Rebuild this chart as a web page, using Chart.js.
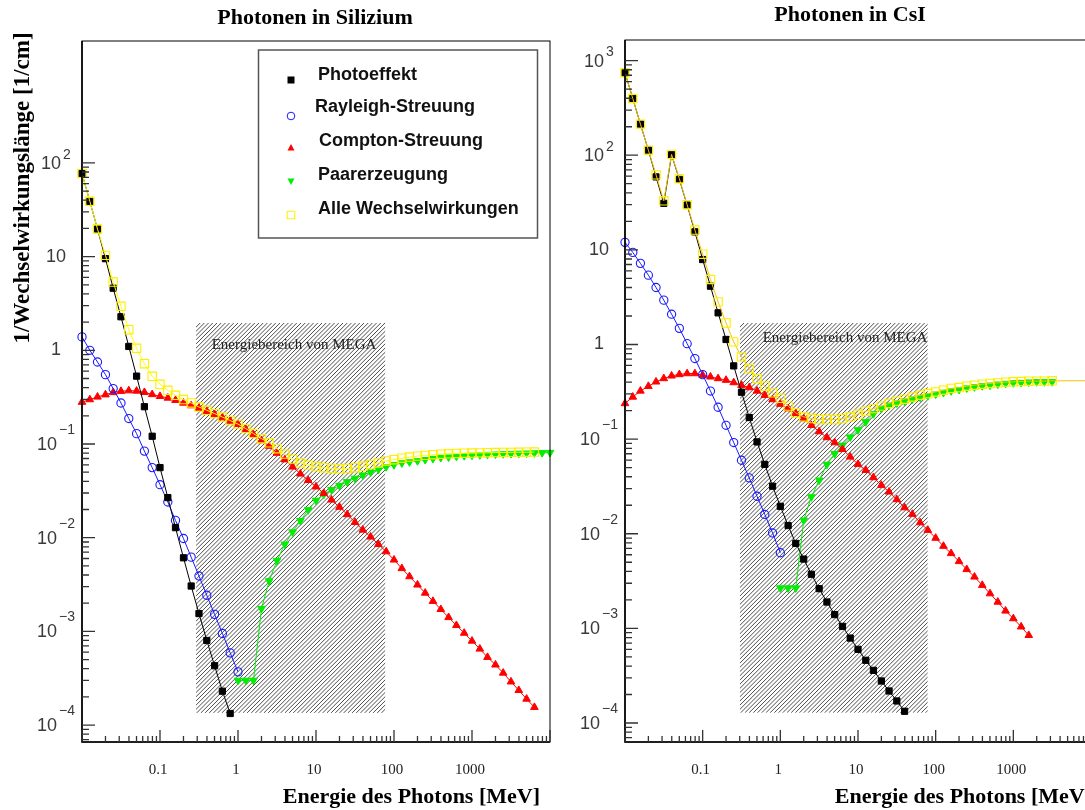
<!DOCTYPE html>
<html>
<head>
<meta charset="utf-8">
<script src="https://cdn.jsdelivr.net/npm/chart.js@4.4.0/dist/chart.umd.min.js"></script>
<style>
    html, body { margin: 0; padding: 0; background: #fff; width: 1085px; height: 810px; overflow: hidden; }
    canvas { position: absolute; top: 0; }
    #links { left: 0; }
    #rechts { left: 560px; }
</style>
</head>
<body>
<canvas id="links" width="560" height="810"></canvas>
<canvas id="rechts" width="545" height="810"></canvas>
<script>
// Energiegitter in MeV (10 Punkte pro Dekade)
const energie = [0.01, 0.0126, 0.0158, 0.02, 0.0251, 0.0316, 0.0398, 0.0501, 0.0631, 0.0794,
    0.1, 0.126, 0.158, 0.2, 0.251, 0.316, 0.398, 0.501, 0.631, 0.794,
    1, 1.26, 1.58, 2, 2.51, 3.16, 3.98, 5.01, 6.31, 7.94,
    10, 12.6, 15.8, 20, 25.1, 31.6, 39.8, 50.1, 63.1, 79.4,
    100, 126, 158, 200, 251, 316, 398, 501, 631, 794,
    1000, 1260, 1580, 2000, 2510, 3160, 3980, 5010, 6310, 7940, 10000];

// ---- Silizium (1/cm) ----
const photoSi = [76.9, 38.9, 19.7, 9.5, 4.6, 2.28, 1.1, 0.53, 0.25, 0.121,
    0.056, 0.0268, 0.0128, 0.0061, 0.00305, 0.00155, 0.0008, 0.00043, 0.00023, 0.000133];
const rayleighSi = [1.39, 1.0, 0.75, 0.55, 0.39, 0.274, 0.187, 0.129, 0.084, 0.056,
    0.0368, 0.024, 0.0153, 0.0098, 0.0062, 0.0039, 0.00243, 0.00152, 0.00095, 0.00059, 0.00037];
const comptonSi = [0.28, 0.298, 0.318, 0.336, 0.355, 0.366, 0.371, 0.368, 0.356, 0.338,
    0.323, 0.31, 0.293, 0.274, 0.257, 0.242, 0.224, 0.207, 0.191, 0.176,
    0.162, 0.143, 0.126, 0.109, 0.095, 0.08, 0.068, 0.057, 0.048, 0.041,
    0.035, 0.0298, 0.0253, 0.0212, 0.0177, 0.0146, 0.0121, 0.0102, 0.0085, 0.0071,
    0.0058, 0.0047, 0.00385, 0.00314, 0.00257, 0.0021, 0.00172, 0.00141, 0.00116, 0.00096,
    0.00079, 0.00065, 0.00053, 0.00044, 0.00036, 0.00029, 0.000235, 0.00019, 0.000155];
const paarSiStart = 20; // erster Punkt bei 1 MeV
const paarSi = [0.0003, 0.0003, 0.0003, 0.00175, 0.00345, 0.0057, 0.0085, 0.0115, 0.0152, 0.0198,
    0.025, 0.029, 0.0325, 0.036, 0.0395, 0.043, 0.0465, 0.05, 0.0535, 0.057,
    0.06, 0.0627, 0.0643, 0.066, 0.068, 0.0698, 0.0716, 0.0725, 0.0738, 0.0748,
    0.0757, 0.0765, 0.0772, 0.0778, 0.0784, 0.0789, 0.0794, 0.0798, 0.0802, 0.0806, 0.081];
const alleSi = [76.9, 38.9, 19.7, 10.3, 5.35, 2.95, 1.66, 1.05, 0.72, 0.528,
    0.434, 0.374, 0.331, 0.298, 0.274, 0.248, 0.229, 0.211, 0.194, 0.178,
    0.163, 0.146, 0.129, 0.114, 0.103, 0.089, 0.078, 0.069, 0.063, 0.0595,
    0.0575, 0.0558, 0.0548, 0.0543, 0.0547, 0.0559, 0.0578, 0.0603, 0.0627, 0.066,
    0.068, 0.0705, 0.0725, 0.0742, 0.0756, 0.0768, 0.0778, 0.0786, 0.0792, 0.0797,
    0.0801, 0.0804, 0.0807, 0.081, 0.0812, 0.0814, 0.0816, 0.0818, 0.082];

// ---- CsI (1/cm) ----
const photoCsI = [743, 398, 213, 113, 59, 31, 101, 55.5, 29.7, 15.5,
    7.9, 4.13, 2.16, 1.13, 0.594, 0.313, 0.169, 0.0934, 0.054, 0.0318,
    0.0195, 0.0122, 0.0079, 0.0054, 0.00373, 0.00263, 0.0019, 0.0014, 0.00105, 0.00079,
    0.0006, 0.00046, 0.00036, 0.000278, 0.000218, 0.000171, 0.000133];
const rayleighCsI = [12.0, 9.4, 7.2, 5.4, 4.0, 2.94, 2.09, 1.48, 1.02, 0.71,
    0.48, 0.322, 0.217, 0.14, 0.092, 0.0598, 0.0389, 0.0249, 0.016, 0.0102, 0.0063];
const comptonCsI = [0.238, 0.279, 0.323, 0.362, 0.403, 0.437, 0.466, 0.482, 0.493, 0.493,
    0.474, 0.455, 0.437, 0.42, 0.396, 0.371, 0.351, 0.323, 0.291, 0.262,
    0.234, 0.21, 0.187, 0.165, 0.14, 0.12, 0.104, 0.092, 0.078, 0.0649,
    0.0543, 0.0469, 0.0393, 0.0326, 0.0277, 0.023, 0.0189, 0.0161, 0.0131, 0.0109,
    0.009, 0.0074, 0.0062, 0.0051, 0.0042, 0.0035, 0.00286, 0.00233, 0.0019, 0.00153,
    0.00127, 0.00104, 0.000845];
const paarCsIStart = 20;
const paarCsI = [0.00267, 0.00267, 0.00267, 0.0139, 0.0245, 0.0368, 0.054, 0.07, 0.086, 0.105,
    0.125, 0.152, 0.185, 0.21, 0.228, 0.24, 0.252, 0.264, 0.276, 0.287,
    0.298, 0.311, 0.323, 0.334, 0.346, 0.356, 0.365, 0.371, 0.38, 0.387,
    0.393, 0.396, 0.4, 0.403, 0.403, 0.403];
const alleCsI = [743, 398, 213, 113, 62, 33, 102, 56.5, 30, 16.2,
    9.0, 4.86, 2.82, 1.69, 1.065, 0.74, 0.557, 0.437, 0.362, 0.308,
    0.27, 0.223, 0.189, 0.172, 0.165, 0.161, 0.161, 0.161, 0.165, 0.172,
    0.183, 0.197, 0.21, 0.223, 0.238, 0.252, 0.264, 0.279, 0.291, 0.303,
    0.315, 0.329, 0.343, 0.351, 0.362, 0.371, 0.38, 0.387, 0.393, 0.4,
    0.403, 0.406, 0.409, 0.41, 0.41, 0.413];
const alleCsIEnde = 0.414; // Linie laeuft ohne Marker bis zum Rand weiter

// Achsen
const xTickWerte = [0.1, 1, 10, 100, 1000];
const xTickTexte = ['0.1', '1', '10', '100', '1000'];
const yExpSi = [-4, -3, -2, -1, 0, 1, 2];
const yExpCsI = [-4, -3, -2, -1, 0, 1, 2, 3];

// MEGA Energiebereich (schraffiert)
const megaSi = { von: 0.29, bis: 77, unten: 1.35e-4, oben: 1.96 };
const megaCsI = { von: 0.302, bis: 78.7, unten: 1.28e-4, oben: 1.69 };

const legendeTexte = ['Photoeffekt', 'Rayleigh-Streuung', 'Compton-Streuung', 'Paarerzeugung', 'Alle Wechselwirkungen'];

const gruen = '#00ee00';
const blau = '#1a1aff';

let punkte = (werte, start) => werte.map((v, i) => ({ x: energie[start + i], y: v }));

let datensaetze = (photo, rayleigh, compton, paar, paarStart, alle, alleEnde, gelbLinie) => {
    let alleDaten = punkte(alle, 0);
    if (alleEnde != null) alleDaten.push({ x: energie[energie.length - 1], y: alleEnde });
    return [
        {   // Alle Wechselwirkungen (oben)
            label: legendeTexte[4], data: alleDaten, order: 0,
            borderColor: gelbLinie, pointBorderColor: '#ffee00', backgroundColor: 'rgba(0,0,0,0)',
            pointStyle: 'rect', pointRadius: alleDaten.map((p, i) => i < alle.length ? 5.9 : 0),
            pointBorderWidth: 1.1
        },
        {
            label: legendeTexte[0], data: punkte(photo, 0), order: 1,
            borderColor: '#000', backgroundColor: '#000',
            pointStyle: 'rect', pointRadius: 4.4, pointBorderWidth: 1
        },
        {
            label: legendeTexte[1], data: punkte(rayleigh, 0), order: 2,
            borderColor: blau, backgroundColor: 'rgba(0,0,0,0)',
            pointStyle: 'circle', pointRadius: 4.1, pointBorderWidth: 1.1
        },
        {
            label: legendeTexte[2], data: punkte(compton, 0), order: 3,
            borderColor: '#ff0000', backgroundColor: '#ff0000',
            pointStyle: 'triangle', pointRadius: 4.4, pointBorderWidth: 1
        },
        {
            label: legendeTexte[3], data: punkte(paar, paarStart), order: 4,
            borderColor: gruen, backgroundColor: gruen,
            pointStyle: 'triangle', pointRotation: 180, pointRadius: 4.4, pointBorderWidth: 1
        }
    ];
}

// kleine Marker fuer die Legende
let marker = (ctx, art, x, y) => {
    ctx.save();
    ctx.lineWidth = 1;
    ctx.beginPath();
    if (art == 0) { ctx.fillStyle = '#000'; ctx.fillRect(x - 3.5, y - 3.5, 7, 7); }
    if (art == 1) { ctx.strokeStyle = blau; ctx.arc(x, y, 3.8, 0, 2 * Math.PI); ctx.stroke(); }
    if (art == 2) { ctx.fillStyle = '#ff0000'; ctx.moveTo(x, y - 4); ctx.lineTo(x + 3.5, y + 2.5); ctx.lineTo(x - 3.5, y + 2.5); ctx.fill(); }
    if (art == 3) { ctx.fillStyle = gruen; ctx.moveTo(x, y + 4); ctx.lineTo(x + 3.5, y - 2.5); ctx.lineTo(x - 3.5, y - 2.5); ctx.fill(); }
    if (art == 4) { ctx.strokeStyle = '#ffee00'; ctx.strokeRect(x - 3.8, y - 3.8, 7.6, 7.6); }
    ctx.restore();
}

const deko = {
    id: 'deko',
    beforeDatasetsDraw(chart, args, o) {
        const { ctx } = chart;
        const xs = chart.scales.x, ys = chart.scales.y;
        const b = o.bereich;
        const x0 = xs.getPixelForValue(b.von), x1 = xs.getPixelForValue(b.bis);
        const y0 = ys.getPixelForValue(b.oben), y1 = ys.getPixelForValue(b.unten);
        const h = y1 - y0;
        ctx.save();
        ctx.beginPath();
        ctx.rect(x0, y0, x1 - x0, h);
        ctx.clip();
        ctx.strokeStyle = '#3a3a3a';
        ctx.lineWidth = 0.9;
        ctx.beginPath();
        for (let s = x0 - h; s < x1; s += 4.2) {
            ctx.moveTo(s, y1);
            ctx.lineTo(s + h, y0);
        }
        ctx.stroke();
        ctx.restore();

        ctx.save();
        ctx.font = '15px "Liberation Serif"';
        ctx.fillStyle = '#222';
        ctx.textAlign = 'center';
        ctx.textBaseline = 'middle';
        ctx.fillText('Energiebereich von MEGA', o.bereichText[0], o.bereichText[1]);
        ctx.restore();
    },
    afterDatasetsDraw(chart, args, o) {
        const { ctx, chartArea: ca } = chart;
        const xs = chart.scales.x, ys = chart.scales.y;
        ctx.save();

        // Rahmen
        ctx.strokeStyle = '#000';
        ctx.lineWidth = 1;
        ctx.strokeRect(ca.left, ca.top, ca.right - ca.left, ca.bottom - ca.top);
        ctx.lineWidth = 1.6;
        ctx.beginPath();
        ctx.moveTo(ca.left, ca.top);
        ctx.lineTo(ca.left, ca.bottom);
        ctx.lineTo(ca.right, ca.bottom);
        ctx.stroke();

        // Striche nach innen
        ctx.strokeStyle = '#333';
        ctx.lineWidth = 1.3;
        ctx.beginPath();
        for (let d = -2; d <= 4; d++) {
            for (let m = 1; m <= 9; m++) {
                const v = m * Math.pow(10, d);
                if (v > xs.max * 1.0001) break;
                const px = xs.getPixelForValue(v);
                ctx.moveTo(px, ca.bottom);
                ctx.lineTo(px, ca.bottom - (m == 1 ? 12 : 6));
            }
        }
        for (let d = -5; d <= 3; d++) {
            for (let m = 1; m <= 9; m++) {
                const v = m * Math.pow(10, d);
                if (v < ys.min || v > o.yTickMax * 1.0001) continue;
                const py = ys.getPixelForValue(v);
                ctx.moveTo(ca.left, py);
                ctx.lineTo(ca.left + (m == 1 ? 13 : 7), py);
            }
        }
        ctx.stroke();

        // x Beschriftung
        ctx.fillStyle = '#222';
        ctx.font = '15px "Liberation Serif"';
        ctx.textAlign = 'center';
        ctx.textBaseline = 'middle';
        xTickWerte.forEach((v, i) => {
            ctx.fillText(xTickTexte[i], xs.getPixelForValue(v) - 2, 770);
        });

        // y Beschriftung 10^n
        ctx.fillStyle = '#3a3a3a';
        const cx = ca.left - 26;
        o.yExp.forEach(e => {
            const py = ys.getPixelForValue(Math.pow(10, e));
            ctx.font = '18px "Liberation Sans"';
            if (e == 0 || e == 1) {
                ctx.textAlign = 'center';
                ctx.fillText(e == 0 ? '1' : '10', cx, py);
                return;
            }
            const hoch = e < 0 ? '\u2212' + (-e) : String(e);
            const wb = ctx.measureText('10').width;
            ctx.font = '14px "Liberation Sans"';
            const wh = ctx.measureText(hoch).width;
            const luecke = e < 0 ? 2 : 2;
            const start = cx - (wb + luecke + wh) / 2;
            ctx.textAlign = 'left';
            ctx.fillText(hoch, start + wb + luecke, py - (e < 0 ? 14 : 8));
            ctx.font = '18px "Liberation Sans"';
            ctx.fillText('10', start, py + 1);
        });

        // Titel
        ctx.fillStyle = '#000';
        ctx.font = 'bold 22px "Liberation Serif"';
        ctx.textAlign = 'center';
        ctx.fillText(o.titel, o.titelPos[0], o.titelPos[1]);
        ctx.textAlign = 'right';
        ctx.fillText('Energie des Photons [MeV]', o.xTitelRechts, 797);
        if (o.yTitel) {
            ctx.save();
            ctx.translate(23, 188);
            ctx.rotate(-Math.PI / 2);
            ctx.textAlign = 'center';
            ctx.font = 'bold 23px "Liberation Serif"';
            ctx.fillText(o.yTitel, 0, 0);
            ctx.restore();
        }

        // Legende
        if (o.legende) {
            ctx.fillStyle = '#fff';
            ctx.fillRect(258.5, 50, 279, 188);
            ctx.strokeStyle = '#555';
            ctx.lineWidth = 1.5;
            ctx.strokeRect(258.5, 50, 279, 188);
            const tx = [318, 315, 319, 318, 318];
            const ty = [75, 107.5, 141.5, 175.5, 209];
            const my = [80, 116, 148, 181, 215];
            ctx.font = 'bold 18px "Liberation Sans"';
            ctx.fillStyle = '#111';
            ctx.textAlign = 'left';
            legendeTexte.forEach((t, i) => {
                ctx.fillText(t, tx[i], ty[i]);
                marker(ctx, i, 291, my[i]);
            });
        }
        ctx.restore();
    }
};

let optionen = (pad, yMin, yMax, deko) => ({
    responsive: false,
    animation: false,
    devicePixelRatio: 1,
    layout: { padding: pad },
    datasets: { line: { borderWidth: 1, tension: 0, fill: false, clip: false } },
    plugins: { legend: { display: false }, tooltip: { enabled: false }, deko: deko },
    scales: {
        x: { type: 'logarithmic', min: 0.01, max: 10000, display: false },
        y: { type: 'logarithmic', min: yMin, max: yMax, display: false }
    }
});

new Chart(document.getElementById('links'), {
    type: 'line',
    data: { datasets: datensaetze(photoSi, rayleighSi, comptonSi, paarSi, paarSiStart, alleSi, null, '#ffff00') },
    options: optionen({ left: 82, top: 41, right: 10, bottom: 68 }, 6.6e-5, 2000, {
        bereich: megaSi, bereichText: [294, 345],
        titel: 'Photonen in Silizium', titelPos: [315, 18], xTitelRechts: 540,
        yTitel: '1/Wechselwirkungsl\u00e4nge [1/cm]', yExp: yExpSi, yTickMax: 100, legende: true
    }),
    plugins: [deko]
});

new Chart(document.getElementById('rechts'), {
    type: 'line',
    data: { datasets: datensaetze(photoCsI, rayleighCsI, comptonCsI, paarCsI, paarCsIStart, alleCsI, alleCsIEnde, '#f5c400') },
    options: optionen({ left: 65, top: 40, right: 14, bottom: 68 }, 6.3e-5, 1650, {
        bereich: megaCsI, bereichText: [285, 338],
        titel: 'Photonen in CsI', titelPos: [290, 15], xTitelRechts: 532,
        yTitel: '', yExp: yExpCsI, yTickMax: 1650, legende: false
    }),
    plugins: [deko]
});
</script>
</body>
</html>
